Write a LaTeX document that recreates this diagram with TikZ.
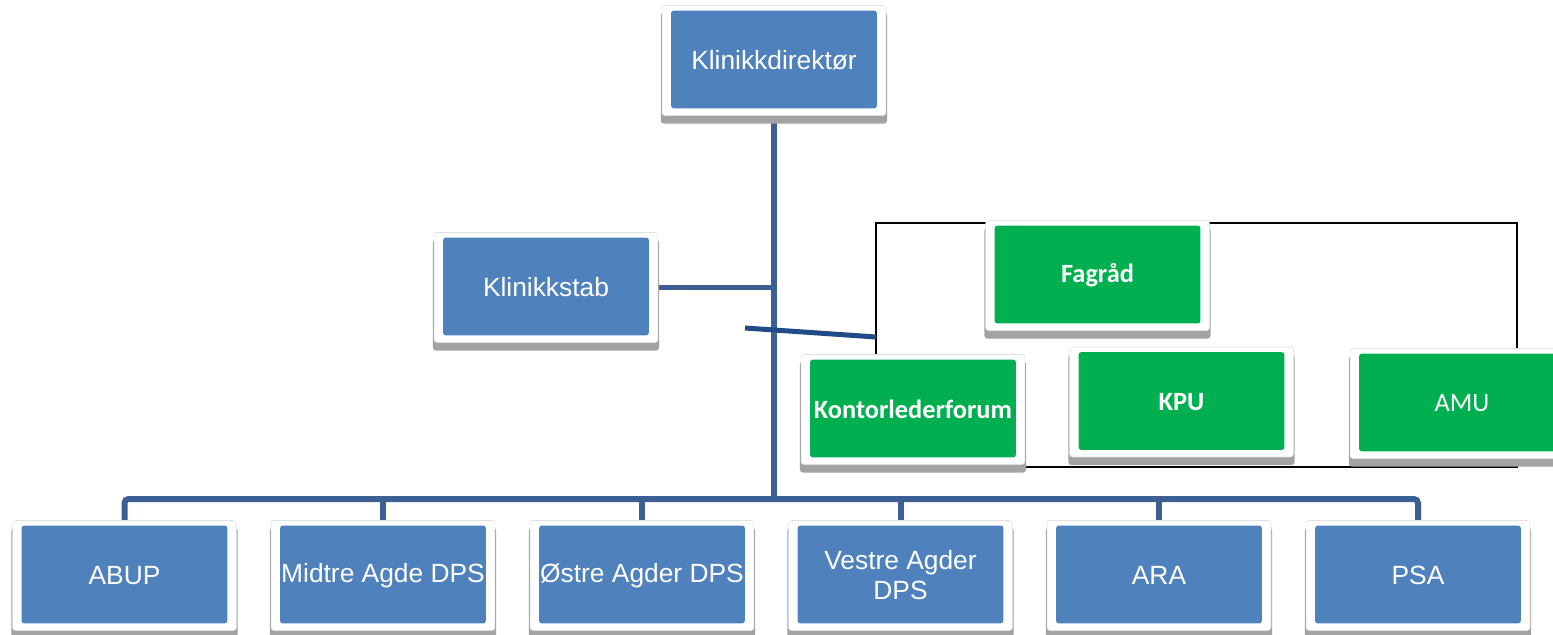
\documentclass[tikz,border=0pt]{standalone}
\usepackage{fontspec}
\setmainfont{Liberation Sans}
\newfontfamily\calibri{Carlito}
\usetikzlibrary{shadows,backgrounds}

\definecolor{boxblue}{RGB}{79,129,189}
\definecolor{lineblue}{RGB}{60,96,148}
\definecolor{darkblue}{RGB}{33,75,135}
\definecolor{boxgreen}{RGB}{0,176,80}

\tikzset{
  unit/.style={fill=white, draw=black!12, line width=0.3pt, rounded corners=0.06cm,
    minimum width=4.48cm, minimum height=2.2cm, inner sep=0pt,
    text=white, align=center, font=\fontsize{15}{17}\selectfont,
    drop shadow={shadow xshift=0cm, shadow yshift=-0.15cm, shadow scale=1.01, fill=black!36, opacity=1},
    path picture={\fill[#1] ([shift={(0.18cm,-0.1cm)}]path picture bounding box.north west)
      rectangle ([shift={(-0.18cm,0.14cm)}]path picture bounding box.south east);}},
  unit/.default=boxblue,
  gfont/.style={font=\calibri\bfseries\fontsize{15}{17}\selectfont},
  link/.style={draw=lineblue, line width=0.12cm},
}

\begin{document}
\begin{tikzpicture}[x=0.02cm, y=-0.02cm]
    \clip (0,0) rectangle (1553,635);

    \coordinate (rtl) at (876,223);
    \coordinate (rbr) at (1517,467);
    \draw[line width=0.04cm] (rtl) rectangle (rbr);
    \coordinate (s1) at (745,328);
    \coordinate (s2) at (876,337);
    \draw[draw=darkblue, line width=0.1cm] (s1) -- (s2);

    \node[unit] (dir) at (774,60.5) {Klinikkdirektør};
    \node[unit] (stab) at (546,287.5) {Klinikkstab};

    \node[unit=boxgreen, gfont] (fag) at (1097.5,275.5) {Fagråd};
    \node[unit=boxgreen, gfont] (kontor) at (913,409.5) {Kontorlederforum};
    \node[unit=boxgreen, gfont] (kpu) at (1181.5,402) {KPU};
    \node[unit=boxgreen, font=\calibri\fontsize{15}{17}\selectfont] (amu) at (1462,403.5) {AMU};

    \node[unit] (abup) at (124.5,575.5) {ABUP};
    \node[unit] (midtre) at (383,575.5) {Midtre Agde DPS};
    \node[unit] (ostre) at (642,575.5) {Østre Agder DPS};
    \node[unit] (vestre) at (900.5,575.5) {Vestre Agder\\DPS};
    \node[unit] (ara) at (1159,575.5) {ARA};
    \node[unit] (psa) at (1418,575.5) {PSA};

    \coordinate (bus) at (774,499);

    \begin{scope}[on background layer]
    \draw[link] (dir.south) -- (bus);
    \draw[link, line width=0.1cm] (stab.east) -- (stab.east -| dir.south);
    \draw[link, rounded corners=0.08cm] (abup.north) |- (bus) -| (psa.north);
    \foreach \n in {midtre,ostre,vestre,ara}
        \draw[link] (\n.north) -- (\n.north |- bus);
    \end{scope}

\end{tikzpicture}
\end{document}
